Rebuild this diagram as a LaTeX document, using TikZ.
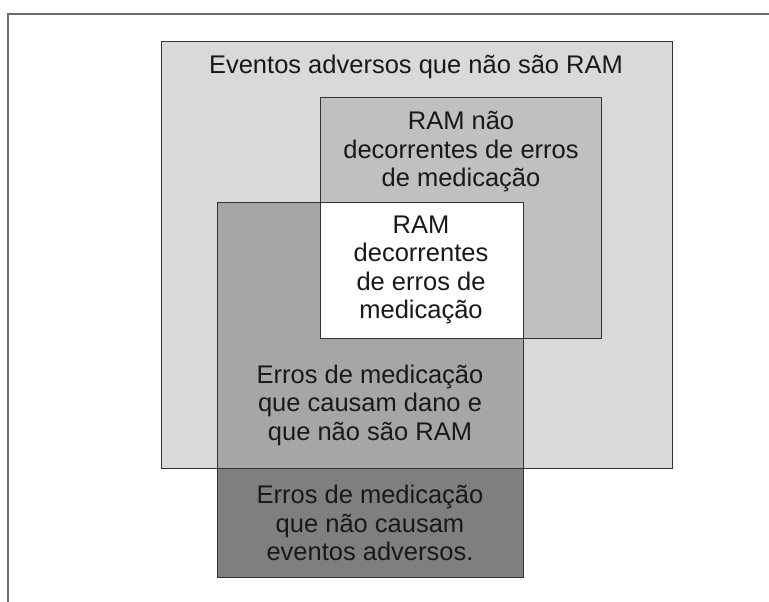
\documentclass[tikz,border=0pt]{standalone}
\usepackage{fontspec}
\setmainfont{Liberation Sans}
\begin{document}
\begin{tikzpicture}[x=1pt,y=-1pt,
  box/.style={draw=black!80, line width=0.9pt},
  lbl/.style={align=center, font=\fontsize{25.5}{28.5}\selectfont, inner sep=0pt, text=black!90}]
\useasboundingbox (0,0) rectangle (769,602);
\fill[white] (0,0) rectangle (769,602);
\draw[line width=2pt, color=black!58] (8,602) -- (8,14) -- (769,14);
% rectangles
\filldraw[box, fill={rgb,255:red,217;green,217;blue,217}] (161,41) rectangle (672,468);
\filldraw[box, fill={rgb,255:red,192;green,192;blue,192}] (320,97) rectangle (601,338);
\filldraw[box, fill={rgb,255:red,166;green,166;blue,166}] (217,202) rectangle (523,468);
\filldraw[box, fill={rgb,255:red,127;green,127;blue,127}] (217,468) rectangle (523,577);
\filldraw[box, fill=white] (320,202) rectangle (523,338);
% labels
\node[lbl, anchor=base] (ea) at (416,74) {Eventos adversos que não são RAM};
\node[lbl] (rn) at (461,152) {RAM não\\decorrentes de erros\\de medicação};
\node[lbl] (rd) at (421,270) {RAM\\decorrentes\\de erros de\\medicação};
\node[lbl] (ed) at (370,405) {Erros de medicação\\que causam dano e\\que não são RAM};
\node[lbl] (en) at (370,523) {Erros de medicação\\que não causam\\eventos adversos.};
\end{tikzpicture}
\end{document}
